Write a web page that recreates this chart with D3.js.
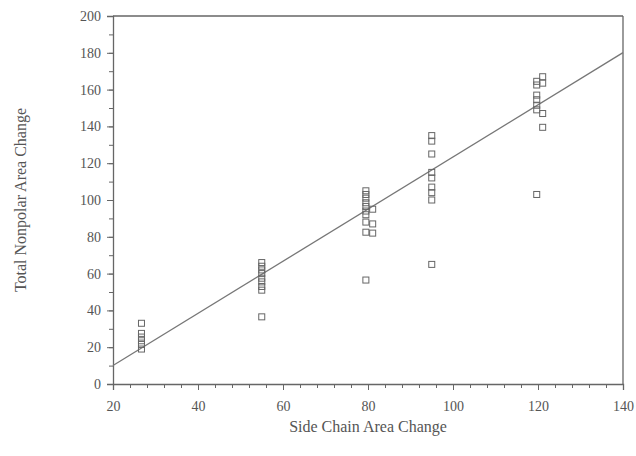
<!DOCTYPE html>
<html>
<head>
<meta charset="utf-8">
<script src="https://d3js.org/d3.v7.min.js"></script>
<style>
  body { margin: 0; background: #fff; }
  text { font-family: "Liberation Serif", "DejaVu Serif", serif; fill: #555; }
</style>
</head>
<body>
<div id="chart"></div>
<script>
// Side chain area change (x) and total nonpolar area change (y), per residue group
const sideChain = [
    26.7, 26.7, 26.7, 26.7, 26.7, 26.7,
    55, 55, 55, 55, 55, 55, 55, 55, 55,
    79.5, 79.5, 79.5, 79.5, 79.5, 79.5, 79.5, 79.5, 79.5, 79.5,
    81.1, 81.1, 81.1,
    95, 95, 95, 95, 95, 95, 95, 95, 95,
    119.7, 119.7, 119.7, 119.7, 119.7, 119.7, 119.7,
    121.1, 121.1, 121.1, 121.1
];
const nonpolar = [
    33, 27.5, 25.5, 23.5, 21.5, 19,
    66, 64, 62, 60, 57.5, 55.5, 53, 51, 36.5,
    105, 103, 101, 98.5, 96.5, 94, 92, 88, 82.5, 56.5,
    95, 87, 82,
    135, 132, 125, 115, 112, 107, 104, 100, 65,
    164.5, 162.5, 157, 154.5, 151.5, 149, 103,
    167, 163.5, 147, 139.5
];

// least squares fit line
const fitSlope = 1.417;
const fitIntercept = -18.3;

const xTicks = [20, 40, 60, 80, 100, 120, 140];
const yTicks = [0, 20, 40, 60, 80, 100, 120, 140, 160, 180, 200];

const margin = { top: 16, right: 13, bottom: 72, left: 113 };
const width = 636 - margin.left - margin.right;
const height = 456 - margin.top - margin.bottom;

const svg = d3.select("#chart")
    .append("svg")
    .attr("width", 636)
    .attr("height", 456);

const g = svg.append("g")
    .attr("transform", `translate(${margin.left},${margin.top})`);

const x = d3.scaleLinear().domain([20, 140]).range([0, width]);
const y = d3.scaleLinear().domain([0, 200]).range([height, 0]);

const axisColor = "#666";
const serif = "'Liberation Serif', 'DejaVu Serif', serif";

// minor ticks
g.append("g")
    .attr("transform", `translate(0,${height})`)
    .call(d3.axisBottom(x).tickValues(d3.range(20, 141, 4)).tickSize(4).tickFormat(""))
    .call(a => a.select(".domain").remove())
    .selectAll("line").attr("stroke", axisColor);

g.append("g")
    .call(d3.axisLeft(y).tickValues(d3.range(0, 201, 10)).tickSize(4).tickFormat(""))
    .call(a => a.select(".domain").remove())
    .selectAll("line").attr("stroke", axisColor);

// major ticks + labels
const xAxis = g.append("g")
    .attr("transform", `translate(0,${height})`)
    .call(d3.axisBottom(x).tickValues(xTicks).tickSize(6).tickPadding(11))
    .attr("font-family", serif)
    .attr("font-size", 14);
xAxis.select(".domain").attr("stroke", axisColor).attr("stroke-width", 1.3);
xAxis.selectAll("line").attr("stroke", axisColor);
xAxis.selectAll("text").attr("fill", "#555");

const yAxis = g.append("g")
    .call(d3.axisLeft(y).tickValues(yTicks).tickSize(6).tickPadding(6))
    .attr("font-family", serif)
    .attr("font-size", 14);
yAxis.select(".domain").attr("stroke", axisColor).attr("stroke-width", 1.3);
yAxis.selectAll("line").attr("stroke", axisColor);
yAxis.selectAll("text").attr("fill", "#555");

// top and right frame
g.append("line")
    .attr("x1", 0).attr("x2", width).attr("y1", 0).attr("y2", 0)
    .attr("stroke", axisColor).attr("stroke-width", 1.3);
g.append("line")
    .attr("x1", width).attr("x2", width).attr("y1", 0).attr("y2", height)
    .attr("stroke", axisColor).attr("stroke-width", 1.3);

// fit line
const xDom = x.domain();
g.append("path")
    .datum(xDom)
    .attr("fill", "none")
    .attr("stroke", "#777")
    .attr("stroke-width", 1.3)
    .attr("d", d3.line().x(d => x(d)).y(d => y(fitSlope * d + fitIntercept)));

// square markers
const s = 6;
g.selectAll(".pt")
    .data(d3.zip(sideChain, nonpolar))
    .enter()
    .append("rect")
    .attr("class", "pt")
    .attr("x", d => x(d[0]) - s / 2)
    .attr("y", d => y(d[1]) - s / 2)
    .attr("width", s)
    .attr("height", s)
    .attr("fill", "none")
    .attr("stroke", "#666")
    .attr("stroke-width", 1);

// axis titles
svg.append("text")
    .attr("x", margin.left + x(80))
    .attr("y", 432)
    .attr("text-anchor", "middle")
    .style("font-size", "16px")
    .text("Side Chain Area Change");

svg.append("text")
    .attr("transform", `translate(26,${margin.top + y(100)}) rotate(-90)`)
    .attr("text-anchor", "middle")
    .style("font-size", "16px")
    .text("Total Nonpolar Area Change");
</script>
</body>
</html>
